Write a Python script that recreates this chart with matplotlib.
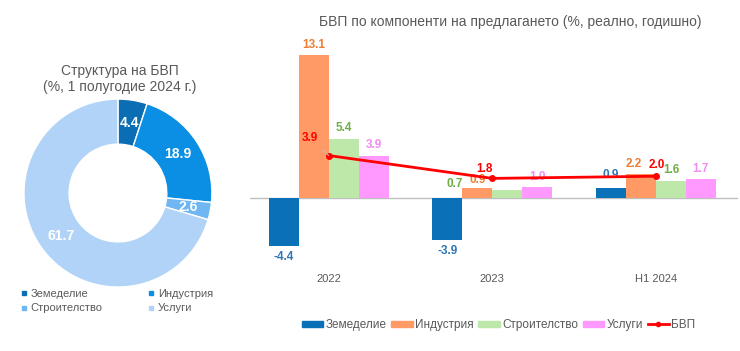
import numpy as np
import matplotlib.pyplot as plt
from matplotlib.patches import Patch
from matplotlib.lines import Line2D

plt.rcParams['font.family'] = ['Liberation Sans', 'DejaVu Sans']

# структура на БВП (1 полугодие 2024)
struct_labels = ['Земеделие', 'Индустрия', 'Строителство', 'Услуги']
struct_values = [4.4, 18.9, 2.6, 61.7]

# растеж по компоненти
periods = ['2022', '2023', 'H1 2024']
zemedelie = [-4.4, -3.9, 0.9]
industria = [13.1, 0.9, 2.2]
stroitelstvo = [5.4, 0.7, 1.6]
uslugi = [3.9, 1.0, 1.7]
bvp = [3.9, 1.8, 2.0]

gray = '#595959'
donut_colors = ['#0B6DB3', '#0A8FE4', '#6FB6F3', '#B2D3F8']
bar_colors = ['#0A70B8', '#FF9966', '#BDE8A9', '#FF99FF']
lbl_colors = ['#2E75B6', '#ED7D31', '#70AD47', '#F28CF2']

fig = plt.figure(figsize=(7.4, 3.51), dpi=100)

# --- кръгова диаграма ---
ax1 = fig.add_axes([0.0324, 0.182, 0.254, 0.536])
total = sum(struct_values)
wedges, _, pcts = ax1.pie(struct_values, colors=donut_colors, startangle=90, counterclock=False,
                          wedgeprops=dict(width=0.48, edgecolor='white', linewidth=1),
                          autopct=lambda p: f'{p * total / 100:.1f}', pctdistance=0.76,
                          textprops=dict(color='white', fontsize=10, fontweight='bold'))
ax1.set_xlim(-1, 1)
ax1.set_ylim(-1, 1)
fig.text(0.162, 0.776, 'Структура на БВП\n(%, 1 полугодие 2024 г.)', ha='center', va='center',
         fontsize=10, color=gray, linespacing=1.2)

# легендата се пълни по колони -> пренареждане, за да върви по редове
order = [0, 2, 1, 3]
h1 = [Line2D([], [], marker='s', ls='', color=donut_colors[k], markersize=3.5) for k in order]
fig.legend(h1, [struct_labels[k] for k in order], loc='upper left', bbox_to_anchor=(0.014, 0.205),
           ncol=2, frameon=False, fontsize=8, labelcolor=gray, handlelength=0.6,
           handletextpad=0.3, columnspacing=4.1, labelspacing=0.4)

# --- стълбове ---
ax2 = fig.add_axes([0.338, 0.231, 0.659, 0.655])
x = np.arange(len(periods))
w = 0.183
series = [zemedelie, industria, stroitelstvo, uslugi]
offs = [
    [(0, -11), (0, -11), (0, 13)],
    [(0, 10), (0, 8), (-7, 10)],
    [(0, 11), (-53, 6), (0, 11)],
    [(0, 11), (0, 10), (0, 10)],
]
for i, vals in enumerate(series):
    xs = x + (i - 1.5) * w
    ax2.bar(xs, vals, width=w, color=bar_colors[i], zorder=2)
    for j, v in enumerate(vals):
        ax2.annotate(f'{v:.1f}', (xs[j], v), xytext=offs[i][j], textcoords='offset pixels',
                     ha='center', va='center', fontsize=8.5, fontweight='bold',
                     color=lbl_colors[i], zorder=4)

ax2.plot(x, bvp, color='#FF0000', lw=2, marker='o', markersize=4, zorder=5)
bvp_offs = [(-19, 18), (-8, 9), (1, 11)]
for j, v in enumerate(bvp):
    arrow = dict(arrowstyle='-', color='#BFBFBF', lw=0.7, shrinkA=4, shrinkB=0) if j == 0 else None
    ax2.annotate(f'{v:.1f}', (x[j], v), xytext=bvp_offs[j], textcoords='offset pixels',
                 ha='center', va='center', fontsize=8.5, fontweight='bold', color='#FF0000',
                 zorder=6, arrowprops=arrow)

ax2.axhline(0, color='#BFBFBF', lw=1, zorder=1)
ax2.set_xlim(-0.48, 2.5)
ax2.set_ylim(-6.6, 14.5)
ax2.set_xticks(x)
ax2.set_xticklabels(periods, fontsize=8, color=gray)
ax2.tick_params(axis='x', length=0, pad=3)
ax2.set_yticks([])
for s in ax2.spines.values():
    s.set_visible(False)
fig.text(0.689, 0.937, 'БВП по компоненти на предлагането (%, реално, годишно)', ha='center',
         va='center', fontsize=10, color=gray)

h2 = [Patch(color=c) for c in bar_colors]
h2.append(Line2D([], [], color='#FF0000', lw=2, marker='o', markersize=3))
fig.legend(h2, struct_labels + ['БВП'], loc='center', bbox_to_anchor=(0.674, 0.074), ncol=5,
           frameon=False, fontsize=8.5, labelcolor=gray, handlelength=1.8, handleheight=0.4,
           handletextpad=0.2, columnspacing=0.4)

fig.savefig('out.png', dpi=100)
